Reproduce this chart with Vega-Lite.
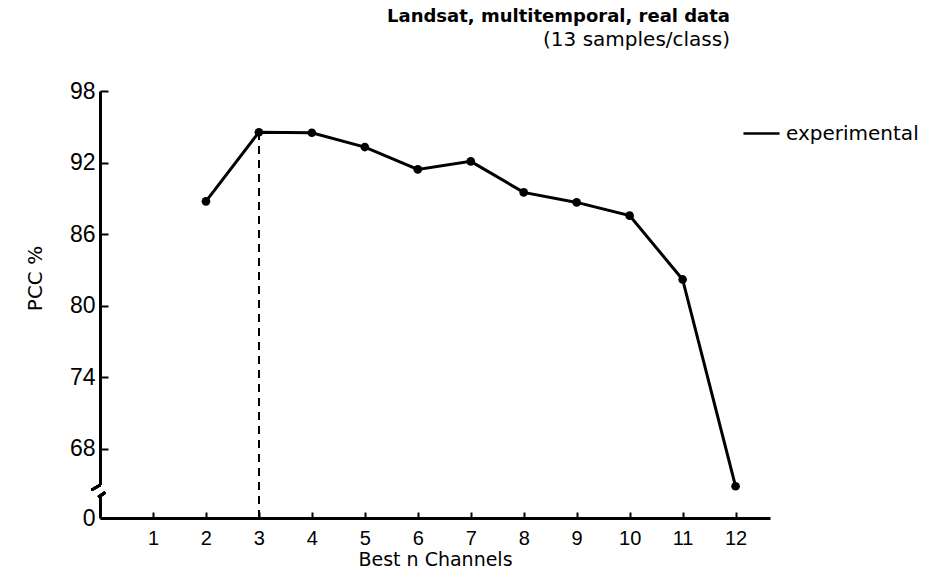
{
  "$schema": "https://vega.github.io/schema/vega-lite/v6.json",
  "width": 670,
  "height": 427,
  "autosize": {"type": "none"},
  "padding": {"left": 100, "top": 91, "right": 167, "bottom": 55},
  "background": "white",
  "config": {
    "font": "Liberation Sans",
    "view": {"stroke": null},
    "axis": {"domainColor": "black", "tickColor": "black", "labelColor": "black", "titleColor": "black", "grid": false, "titleFontWeight": "normal"}
  },
  "title": {
    "text": "Landsat, multitemporal, real data",
    "subtitle": "(13 samples/class)",
    "anchor": "end",
    "frame": "group",
    "dx": -40,
    "offset": 30,
    "fontSize": 18,
    "fontWeight": "bold",
    "color": "black",
    "subtitleFontSize": 20,
    "subtitleColor": "black",
    "subtitlePadding": 4,
    "font": "DejaVu Sans",
    "subtitleFont": "DejaVu Sans"
  },
  "data": {
    "values": [
      {"n": 2, "pcc": 88.75, "series": "experimental"},
      {"n": 3, "pcc": 94.54, "series": "experimental"},
      {"n": 4, "pcc": 94.5, "series": "experimental"},
      {"n": 5, "pcc": 93.3, "series": "experimental"},
      {"n": 6, "pcc": 91.43, "series": "experimental"},
      {"n": 7, "pcc": 92.1, "series": "experimental"},
      {"n": 8, "pcc": 89.5, "series": "experimental"},
      {"n": 9, "pcc": 88.66, "series": "experimental"},
      {"n": 10, "pcc": 87.55, "series": "experimental"},
      {"n": 11, "pcc": 82.2, "series": "experimental"},
      {"n": 12, "pcc": 64.86, "series": "experimental"}
    ]
  },
  "encoding": {
    "x": {
      "field": "n", "type": "quantitative",
      "scale": {"domain": [0, 12.65], "nice": false, "zero": false},
      "axis": {
        "values": [1, 2, 3, 4, 5, 6, 7, 8, 9, 10, 11, 12],
        "title": "Best n Channels",
        "titleFont": "DejaVu Sans",
        "titleFontSize": 19,
        "titlePadding": 2,
        "labelFontSize": 20,
        "tickSize": -6,
        "tickWidth": 2,
        "labelPadding": 16,
        "domainWidth": 3,
        "labelFlush": false
      }
    },
    "y": {
      "field": "pcc", "type": "quantitative",
      "scale": {"domain": [62.2, 98], "nice": false, "zero": false},
      "axis": {
        "values": [62.2, 68, 74, 80, 86, 92, 98],
        "labelExpr": "datum.value < 63 ? '0' : format(datum.value, 'd')",
        "title": "PCC %",
        "titleFont": "DejaVu Sans",
        "titleFontSize": 20,
        "titlePadding": 24,
        "titleY": 187,
        "labelFontSize": 23,
        "tickSize": -8,
        "tickWidth": 2,
        "labelPadding": 13,
        "domainWidth": 3,
        "labelFlush": false
      }
    }
  },
  "layer": [
    {
      "mark": {"type": "rule", "strokeDash": [8, 6], "strokeWidth": 1.5, "color": "black"},
      "encoding": {
        "x": {"datum": 3},
        "y": {"datum": 62.2},
        "y2": {"datum": 94.54}
      }
    },
    {
      "mark": {"type": "line", "strokeWidth": 3},
      "encoding": {
        "color": {
          "field": "series", "type": "nominal",
          "scale": {"range": ["black"]},
          "legend": {
            "title": null,
            "orient": "none",
            "legendX": 642,
            "legendY": 23,
            "symbolType": "stroke",
            "symbolSize": 1300,
            "symbolStrokeWidth": 2.5,
            "symbolStrokeColor": "black",
            "labelFont": "DejaVu Sans",
            "labelFontSize": 20,
            "labelColor": "black",
            "labelOffset": 5
          }
        }
      }
    },
    {
      "mark": {"type": "point", "filled": true, "size": 75, "color": "black", "opacity": 1}
    },
    {
      "mark": {"type": "rect", "color": "white"},
      "encoding": {
        "x": {"datum": -0.05},
        "x2": {"datum": 0.05},
        "y": {"datum": 64.0},
        "y2": {"datum": 64.95}
      }
    },
    {
      "mark": {"type": "rule", "strokeWidth": 2.5, "color": "black"},
      "encoding": {
        "x": {"datum": -0.16},
        "x2": {"datum": 0},
        "y": {"datum": 64.55},
        "y2": {"datum": 64.95}
      }
    },
    {
      "mark": {"type": "rule", "strokeWidth": 2.5, "color": "black"},
      "encoding": {
        "x": {"datum": -0.03},
        "x2": {"datum": 0.1},
        "y": {"datum": 63.95},
        "y2": {"datum": 64.35}
      }
    }
  ]
}
